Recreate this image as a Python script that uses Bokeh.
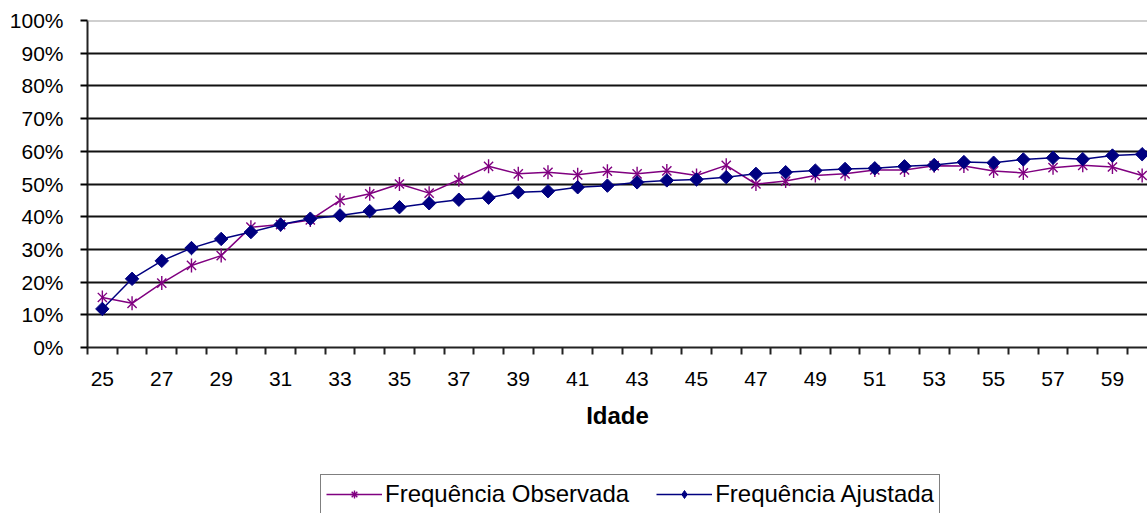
import numpy as np
from bokeh.plotting import figure
from bokeh.layouts import column
from bokeh.models import (FixedTicker, PrintfTickFormatter, Span, Legend, LegendItem,
                          Range1d)
from bokeh.embed import file_html
from bokeh.resources import INLINE

# ---- data ----
ages = [25, 26, 27, 28, 29, 30, 31, 32, 33, 34, 35, 36, 37, 38, 39, 40, 41, 42,
        43, 44, 45, 46, 47, 48, 49, 50, 51, 52, 53, 54, 55, 56, 57, 58, 59, 60]
observada = [15.3, 13.5, 19.7, 25.1, 28.1, 36.8, 37.6, 39.0, 45.0, 47.0, 50.0, 47.2,
             51.3, 55.4, 53.1, 53.6, 52.8, 53.9, 53.1, 54.0, 52.6, 55.7, 50.0, 50.9,
             52.6, 53.1, 54.3, 54.3, 55.6, 55.5, 54.0, 53.4, 55.0, 55.7, 55.2, 52.6]
ajustada = [11.8, 21.0, 26.5, 30.4, 33.2, 35.3, 37.6, 39.4, 40.4, 41.7, 42.9, 44.1,
            45.2, 45.8, 47.5, 47.8, 49.0, 49.5, 50.5, 51.1, 51.4, 52.1, 53.1, 53.6,
            54.1, 54.6, 54.8, 55.4, 55.8, 56.7, 56.5, 57.5, 58.0, 57.6, 58.7, 59.1]
y_ticks = [0, 10, 20, 30, 40, 50, 60, 70, 80, 90, 100]
x_label_ticks = [25, 27, 29, 31, 33, 35, 37, 39, 41, 43, 45, 47, 49, 51, 53, 55, 57, 59]
x_title = "Idade"
series_names = ["Frequência Observada", "Frequência Ajustada"]

FONT = "Liberation Sans"
PURPLE = "#800080"
NAVY = "#000080"

# ---- main chart ----
p = figure(width=1147, height=468, output_backend="svg", toolbar_location=None,
           x_range=Range1d(24.5, 60.18), y_range=Range1d(0, 100),
           min_border_left=87, min_border_right=0, min_border_top=20,
           min_border_bottom=121)
p.outline_line_color = None
p.background_fill_color = "white"
p.border_fill_color = "white"

p.xgrid.visible = False
p.ygrid.ticker = FixedTicker(ticks=y_ticks[1:-1])
p.ygrid.grid_line_color = "#111111"
p.ygrid.grid_line_width = 2
p.add_layout(Span(location=100, dimension="width", line_color="#a0a0a0", line_width=2))

p.yaxis.ticker = FixedTicker(ticks=y_ticks)
p.yaxis.formatter = PrintfTickFormatter(format="%d%%")
p.yaxis.axis_line_color = "#222222"
p.yaxis.axis_line_width = 2
p.yaxis.major_tick_out = 7
p.yaxis.major_tick_in = 0
p.yaxis.major_tick_line_width = 2
p.yaxis.minor_tick_line_color = None
p.yaxis.major_label_standoff = 17
p.yaxis.major_label_text_font = FONT
p.yaxis.major_label_text_font_size = "21px"
p.yaxis.major_label_text_color = "black"

boundaries = [a - 0.5 for a in ages]
p.xaxis.ticker = FixedTicker(ticks=x_label_ticks, minor_ticks=boundaries)
p.xaxis.axis_line_color = "#222222"
p.xaxis.axis_line_width = 2
p.xaxis.major_tick_out = 0
p.xaxis.major_tick_in = 0
p.xaxis.minor_tick_out = 7
p.xaxis.minor_tick_in = 0
p.xaxis.minor_tick_line_color = "#222222"
p.xaxis.minor_tick_line_width = 2
p.xaxis.major_label_standoff = 17
p.xaxis.major_label_text_font = FONT
p.xaxis.major_label_text_font_size = "21px"
p.xaxis.major_label_text_color = "black"
p.xaxis.axis_label = x_title
p.xaxis.axis_label_text_font = FONT
p.xaxis.axis_label_text_font_size = "24px"
p.xaxis.axis_label_text_font_style = "bold"
p.xaxis.axis_label_text_color = "black"
p.xaxis.axis_label_standoff = 13

p.line(ages, observada, line_color=PURPLE, line_width=1.5)
p.scatter(ages, observada, marker="x", size=13, line_color=PURPLE, line_width=1.4)
p.scatter(ages, observada, marker="dash", angle=np.pi / 2, size=14,
          line_color=PURPLE, line_width=1.4)
p.line(ages, ajustada, line_color=NAVY, line_width=1.5)
p.scatter(ages, ajustada, marker="square", angle=np.pi / 4, size=9.5,
          fill_color=NAVY, line_color=NAVY)

# ---- legend strip (series drawn out of view, only their legend glyphs show) ----
q = figure(width=1147, height=45, output_backend="svg", toolbar_location=None,
           x_range=Range1d(0, 1), y_range=Range1d(1000, 1001),
           x_axis_type=None, y_axis_type=None,
           min_border_left=87, min_border_right=0, min_border_top=4,
           min_border_bottom=0)
q.grid.visible = False
q.outline_line_color = None
q.background_fill_color = "white"
q.border_fill_color = "white"
lo1 = q.line(ages, observada, line_color=PURPLE, line_width=1.5)
lo2 = q.scatter(ages, observada, marker="asterisk", size=13, line_color=PURPLE, line_width=1.4)
la1 = q.line(ages, ajustada, line_color=NAVY, line_width=1.5)
la2 = q.scatter(ages, ajustada, marker="diamond", size=14, fill_color=NAVY, line_color=NAVY)

legend = Legend(items=[LegendItem(label=series_names[0], renderers=[lo1, lo2]),
                       LegendItem(label=series_names[1], renderers=[la1, la2])],
                orientation="horizontal", location=(233, -1),
                border_line_color="black", border_line_width=1.5,
                background_fill_color="white", background_fill_alpha=1,
                label_text_font=FONT, label_text_font_size="24px", label_text_color="black",
                glyph_width=56, glyph_height=20, label_standoff=3, spacing=27,
                padding=5, margin=0)
q.add_layout(legend)

open("out.html", "w").write(file_html(column(p, q), INLINE))
